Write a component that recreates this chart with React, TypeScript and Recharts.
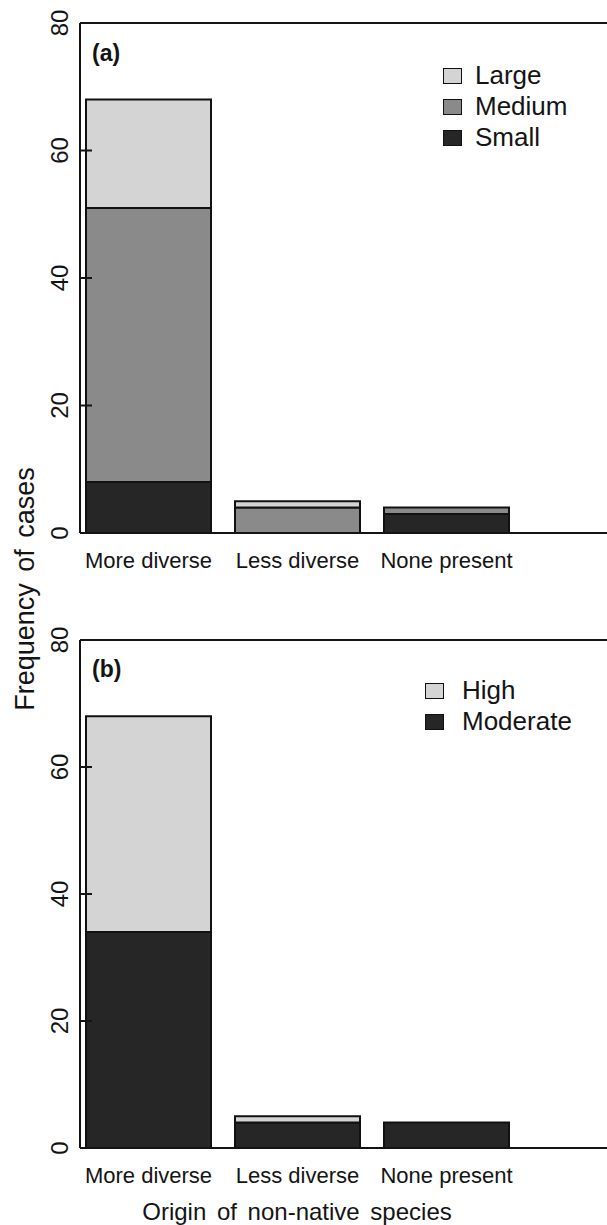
import React from 'react';
import { BarChart, Bar, XAxis, YAxis, ReferenceLine, Legend } from 'recharts';

// categories and counts
const categories = ['More diverse', 'Less diverse', 'None present'];
const sizeSmall = [8, 0, 3];
const sizeMedium = [43, 4, 1];
const sizeLarge = [17, 1, 0];
const impactModerate = [34, 4, 4];
const impactHigh = [34, 1, 0];
const yTicks = [0, 20, 40, 60, 80];
const legendOrderA = ['Large', 'Medium', 'Small'];
const legendOrderB = ['High', 'Moderate'];

const FONT = '"Liberation Sans", Arial, Helvetica, sans-serif';
const LIGHT = '#d4d4d4';
const MID = '#8a8a8a';
const DARK = '#262626';
const INK = '#141414';

const dataA = categories.map((name, i) => ({
  name,
  small: sizeSmall[i],
  medium: sizeMedium[i],
  large: sizeLarge[i],
}));

const dataB = categories.map((name, i) => ({
  name,
  moderate: impactModerate[i],
  high: impactHigh[i],
}));

const XTick = (props: any) => {
  const { x, y, payload } = props;
  return (
    <text x={x} y={y} dy={33} textAnchor="middle" fontSize={22} fontFamily={FONT} fill={INK}>
      {payload.value}
    </text>
  );
};

const YTick = (props: any) => {
  const { y, payload } = props;
  return (
    <text
      x={60}
      y={y}
      transform={`rotate(-90 60 ${y})`}
      textAnchor="middle"
      dy={8}
      fontSize={24}
      fontFamily={FONT}
      fill={INK}
    >
      {payload.value}
    </text>
  );
};

const makeLegend = (order: string[], gap: number) => (props: any) => {
  const items = [...(props.payload || [])].sort(
    (a: any, b: any) => order.indexOf(a.value) - order.indexOf(b.value)
  );
  return (
    <div style={{ fontFamily: FONT, fontSize: 26, color: INK }}>
      {items.map((it: any) => (
        <div key={it.value} style={{ display: 'flex', alignItems: 'center', height: 31 }}>
          <span
            style={{
              display: 'inline-block',
              width: 17,
              height: 14,
              background: it.color,
              border: '1.5px solid #111',
              marginRight: gap,
            }}
          />
          <span>{it.value}</span>
        </div>
      ))}
    </div>
  );
};

const barProps = { stroke: '#111', strokeWidth: 2, isAnimationActive: false, stackId: 's' };

// plotHeight = distance between the 0 and 80 lines in the reference
const Panel = ({ data, children, legend, plotHeight, legendLeft, legendTop }: any) => (
  <BarChart
    width={620}
    height={plotHeight + 20 + 77}
    data={data}
    margin={{ top: 20, right: 0, bottom: 37, left: 80 }}
    barCategoryGap={12}
  >
    <XAxis
      dataKey="name"
      tick={<XTick />}
      tickLine={false}
      tickSize={0}
      height={40}
      padding={{ left: -6, right: 99 }}
      axisLine={{ stroke: INK, strokeWidth: 2 }}
    />
    <YAxis
      domain={[0, 80]}
      ticks={yTicks}
      mirror
      tickSize={12}
      tick={<YTick />}
      tickLine={{ stroke: INK, strokeWidth: 2 }}
      axisLine={{ stroke: INK, strokeWidth: 2 }}
    />
    <ReferenceLine y={80} stroke={INK} strokeWidth={2} />
    {children}
    <Legend
      layout="horizontal"
      verticalAlign="middle"
      align="center"
      content={legend}
      wrapperStyle={{ left: legendLeft, top: legendTop, width: 200 }}
    />
  </BarChart>
);

export default function App() {
  return (
    <div
      style={{
        position: 'absolute',
        left: 0,
        top: 0,
        width: 607,
        height: 1225,
        overflow: 'hidden',
        background: '#fff',
      }}
    >
      <div style={{ position: 'absolute', left: 0, top: 3 }}>
        <Panel
          data={dataA}
          plotHeight={510}
          legend={makeLegend(legendOrderA, 13)}
          legendLeft={443}
          legendTop={57}
        >
          <Bar dataKey="small" name="Small" fill={DARK} {...barProps} />
          <Bar dataKey="medium" name="Medium" fill={MID} {...barProps} />
          <Bar dataKey="large" name="Large" fill={LIGHT} {...barProps} />
        </Panel>
      </div>
      <div style={{ position: 'absolute', left: 0, top: 620 }}>
        <Panel
          data={dataB}
          plotHeight={508}
          legend={makeLegend(legendOrderB, 18)}
          legendLeft={425}
          legendTop={55}
        >
          <Bar dataKey="moderate" name="Moderate" fill={DARK} {...barProps} />
          <Bar dataKey="high" name="High" fill={LIGHT} {...barProps} />
        </Panel>
      </div>
      <svg
        width={607}
        height={1225}
        style={{ position: 'absolute', left: 0, top: 0, pointerEvents: 'none' }}
      >
        <text x={92} y={61} fontSize={23} fontWeight="bold" fontFamily={FONT} fill={INK}>
          (a)
        </text>
        <text x={92} y={677} fontSize={23} fontWeight="bold" fontFamily={FONT} fill={INK}>
          (b)
        </text>
        <text
          x={34}
          y={589}
          transform="rotate(-90 34 589)"
          textAnchor="middle"
          fontSize={27}
          fontFamily={FONT}
          fill={INK}
          style={{ wordSpacing: 4 }}
        >
          Frequency of cases
        </text>
        <text
          x={297}
          y={1220}
          textAnchor="middle"
          fontSize={24}
          fontFamily={FONT}
          fill={INK}
          style={{ wordSpacing: 4 }}
        >
          Origin of non-native species
        </text>
      </svg>
    </div>
  );
}
